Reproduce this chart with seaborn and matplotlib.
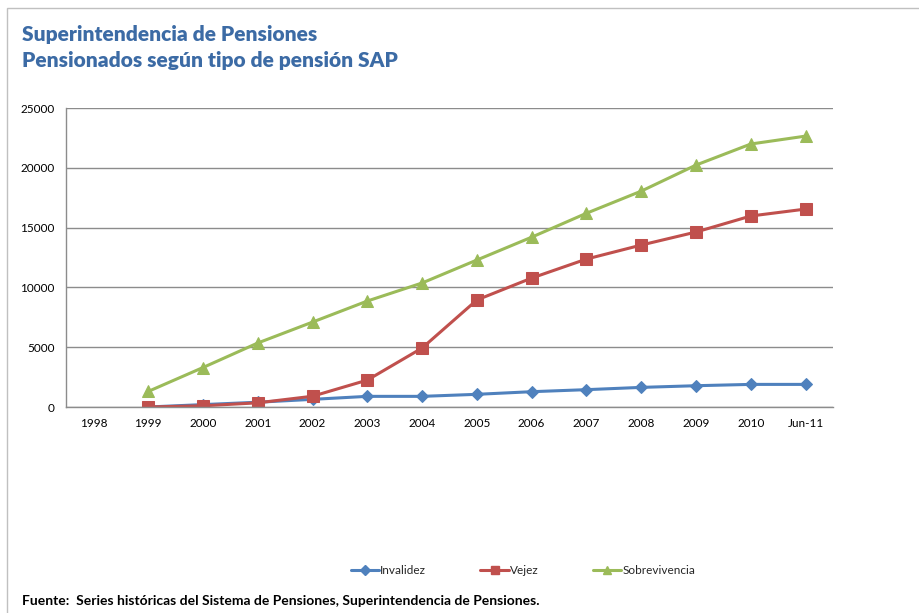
import matplotlib
matplotlib.use('Agg')
import matplotlib.pyplot as plt
import seaborn as sns
import pandas as pd
import numpy as np
from matplotlib.patches import Rectangle

# ---------------------------------------------------------------------------
# Data
# ---------------------------------------------------------------------------

# 1998 has a tick but no data
categories = ["1998", "1999", "2000", "2001", "2002", "2003", "2004",
              "2005", "2006", "2007", "2008", "2009", "2010", "Jun-11"]

invalidez = [np.nan, 0, 200, 400, 640, 890, 890, 1060, 1280, 1450, 1640, 1780, 1890, 1890]
vejez = [np.nan, 0, 100, 350, 900, 2250, 4930, 8950, 10780, 12370, 13540, 14630, 15970, 16550]
sobrevivencia = [np.nan, 1300, 3300, 5350, 7100, 8860, 10370, 12290, 14200, 16200, 18050, 20230, 21990, 22650]

series_names = ["Invalidez", "Vejez", "Sobrevivencia"]
colors = ["#4F81BD", "#C0504D", "#9BBB59"]
markers = ["D", "s", "^"]
marker_sizes = [6, 8, 8]

# ---------------------------------------------------------------------------
# Style
# ---------------------------------------------------------------------------

sns.set_style("white")
plt.rcParams["font.family"] = ["Lato", "DejaVu Sans"]

df = pd.DataFrame({
    "pos": np.tile(np.arange(len(categories)), 3),
    "valor": invalidez + vejez + sobrevivencia,
    "serie": np.repeat(series_names, len(categories)),
})

fig = plt.figure(figsize=(9.19, 6.13), dpi=100)
ax = fig.add_axes([66 / 919, 1 - 407 / 613, (833 - 66) / 919, (407 - 108) / 613])

for name, c, m, ms in zip(series_names, colors, markers, marker_sizes):
    sub = df[df["serie"] == name].dropna()
    sns.lineplot(data=sub, x="pos", y="valor", ax=ax, color=c, marker=m,
                 markersize=ms, markeredgecolor=c, linewidth=2.2,
                 label=name, legend=False)

ax.set_xlim(-0.5, len(categories) - 0.5)
ax.set_ylim(0, 25000)
ax.set_yticks(np.arange(0, 25001, 5000))
ax.set_xticks(np.arange(len(categories)))
ax.set_xticklabels(categories)
ax.tick_params(axis="both", labelsize=8.5, length=0, pad=8, colors="black")
ax.set_xlabel("")
ax.set_ylabel("")
ax.grid(axis="y", color="#8c8c8c", linewidth=1)
ax.set_axisbelow(True)
for s in ["top", "right"]:
    ax.spines[s].set_visible(False)
for s in ["left", "bottom"]:
    ax.spines[s].set_color("#8c8c8c")
    ax.spines[s].set_linewidth(1)

# Legend below the plot
handles = [plt.Line2D([], [], color=c, marker=m, markersize=ms * 0.8,
                      linewidth=2.2, markeredgecolor=c)
           for c, m, ms in zip(colors, markers, marker_sizes)]
fig.legend(handles, series_names, loc="center", bbox_to_anchor=(523 / 919, 1 - 571 / 613),
           ncol=3, frameon=False, fontsize=8.5, handlelength=2.4, handletextpad=0.1,
           columnspacing=4.6)

# Titles
title_color = "#3C6BA5"
fig.text(22 / 919, 1 - 41 / 613, "Superintendencia de Pensiones", fontsize=15,
         fontweight="heavy", color=title_color, va="baseline")
fig.text(22 / 919, 1 - 67 / 613, "Pensionados según tipo de pensión SAP", fontsize=15,
         fontweight="heavy", color=title_color, va="baseline")

fig.text(22 / 919, 1 - 605 / 613,
         "Fuente:  Series históricas del Sistema de Pensiones, Superintendencia de Pensiones.",
         fontsize=10, fontweight="bold", color="black", va="baseline")

# Outer chart frame
fig.patches.append(Rectangle((7 / 919, -0.05), 1.2, 1 - 8 / 613 + 0.05,
                             transform=fig.transFigure, fill=False,
                             edgecolor="#c0c0c0", linewidth=1))

fig.savefig("out.png", dpi=100)
plt.close()
